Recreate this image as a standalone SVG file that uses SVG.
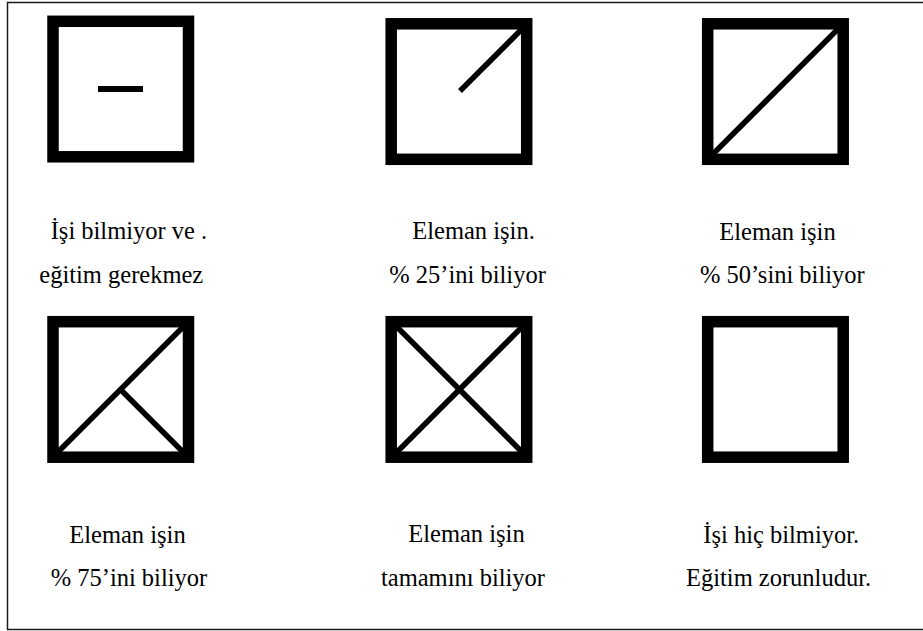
<svg xmlns="http://www.w3.org/2000/svg" width="923" height="631" viewBox="0 0 923 631">
<style>
.box{fill:none;stroke:#000;stroke-width:11.5}
.ln{stroke:#000;stroke-width:5.5;stroke-linecap:butt}
.t{font-family:'Liberation Serif','Times New Roman',serif;font-size:24.5px;fill:#000}
.frame{fill:none;stroke:#1a1a1a;stroke-width:1.5}
</style>
<rect width="923" height="631" fill="#fff"/>
<path class="frame" d="M923 2.5H7.5V629.5H923"/>
<g id="n1">
<rect class="box" x="53" y="21.3" width="135.5" height="135.5"/>
<rect x="98" y="86" width="45" height="6" fill="#000"/>
<text class="t" x="50.7" y="239.3">İşi bilmiyor ve .</text>
<text class="t" x="39.3" y="282.7">eğitim gerekmez</text>
</g>
<g id="n2">
<rect class="box" x="391.2" y="23.8" width="135.5" height="135.5"/>
<line class="ln" x1="460" y1="91" x2="523" y2="28"/>
<text class="t" x="412.3" y="239.3">Eleman işin.</text>
<text class="t" x="389.3" y="283.3">% 25’ini biliyor</text>
</g>
<g id="n3">
<rect class="box" x="707.7" y="23.8" width="135.5" height="135.5"/>
<line class="ln" x1="712" y1="155" x2="839" y2="28"/>
<text class="t" x="719.3" y="240">Eleman işin</text>
<text class="t" x="700" y="283">% 50’sini biliyor</text>
</g>
<g id="n4">
<rect class="box" x="53" y="321.7" width="135.5" height="135.5"/>
<line class="ln" x1="57" y1="453" x2="184" y2="326"/>
<line class="ln" x1="120.5" y1="389.5" x2="183" y2="452"/>
<text class="t" x="69.3" y="542.7">Eleman işin</text>
<text class="t" x="50.7" y="586">% 75’ini biliyor</text>
</g>
<g id="n5">
<rect class="box" x="391.2" y="321.7" width="135.5" height="135.5"/>
<line class="ln" x1="396" y1="453" x2="522" y2="327"/>
<line class="ln" x1="396" y1="326" x2="522" y2="452"/>
<text class="t" x="408.3" y="542.3">Eleman işin</text>
<text class="t" x="381" y="586">tamamını biliyor</text>
</g>
<g id="n6">
<rect class="box" x="707.7" y="321.7" width="135.5" height="135.5"/>
<text class="t" x="703.3" y="542.7">İşi hiç bilmiyor.</text>
<text class="t" x="686" y="586">Eğitim zorunludur.</text>
</g>
<g id="connectors"></g>
</svg>
